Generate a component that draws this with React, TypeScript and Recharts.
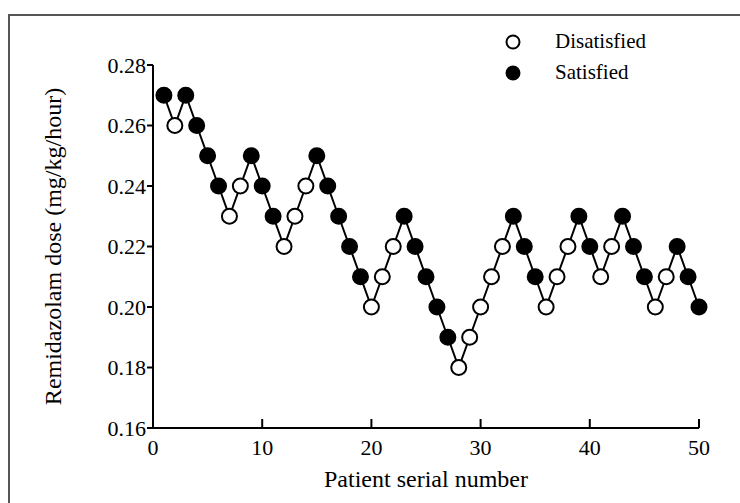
import React from 'react';
import { LineChart, Line, XAxis, YAxis, Legend, Label } from 'recharts';

const patientNo = [
  1, 2, 3, 4, 5, 6, 7, 8, 9, 10,
  11, 12, 13, 14, 15, 16, 17, 18, 19, 20,
  21, 22, 23, 24, 25, 26, 27, 28, 29, 30,
  31, 32, 33, 34, 35, 36, 37, 38, 39, 40,
  41, 42, 43, 44, 45, 46, 47, 48, 49, 50,
];

const dose = [
  0.27, 0.26, 0.27, 0.26, 0.25, 0.24, 0.23, 0.24, 0.25, 0.24,
  0.23, 0.22, 0.23, 0.24, 0.25, 0.24, 0.23, 0.22, 0.21, 0.2,
  0.21, 0.22, 0.23, 0.22, 0.21, 0.2, 0.19, 0.18, 0.19, 0.2,
  0.21, 0.22, 0.23, 0.22, 0.21, 0.2, 0.21, 0.22, 0.23, 0.22,
  0.21, 0.22, 0.23, 0.22, 0.21, 0.2, 0.21, 0.22, 0.21, 0.2,
];

// S = satisfied (filled), D = disatisfied (open)
const outcome = [
  'S', 'D', 'S', 'S', 'S', 'S', 'D', 'D', 'S', 'S',
  'S', 'D', 'D', 'D', 'S', 'S', 'S', 'S', 'S', 'D',
  'D', 'D', 'S', 'S', 'S', 'S', 'S', 'D', 'D', 'D',
  'D', 'D', 'S', 'S', 'S', 'D', 'D', 'D', 'S', 'S',
  'D', 'D', 'S', 'S', 'S', 'D', 'D', 'S', 'S', 'S',
];

const xTicks = [0, 10, 20, 30, 40, 50];
const yTicks = [0.16, 0.18, 0.2, 0.22, 0.24, 0.26, 0.28];

const legendItems = [
  { name: 'Disatisfied', fill: '#fff' },
  { name: 'Satisfied', fill: '#000' },
];

const FONT = "Liberation Serif, Times New Roman, Times, DejaVu Serif, serif";

const chartData = patientNo.map((n, i) => ({
  patient: n,
  dose: dose[i],
  satisfied: outcome[i] === 'S',
}));

const renderDot = (props: any) => {
  const { cx, cy, payload, index } = props;
  return (
    <circle
      key={`dot-${index}`}
      cx={cx}
      cy={cy}
      r={7.5}
      fill={payload.satisfied ? '#000' : '#fff'}
      stroke="#000"
      strokeWidth={2}
    />
  );
};

const renderLegend = () => (
  <div style={{ fontFamily: FONT, fontSize: 21, color: '#000', textAlign: 'left' }}>
    {legendItems.map((item) => (
      <div key={item.name} style={{ display: 'flex', alignItems: 'center', height: 31 }}>
        <svg width={16} height={16} style={{ marginRight: 34 }}>
          <circle cx={8} cy={8} r={6.5} fill={item.fill} stroke="#000" strokeWidth={2} />
        </svg>
        <span>{item.name}</span>
      </div>
    ))}
  </div>
);

const YTitle = (props: any) => {
  const { viewBox } = props;
  const x = viewBox.x + 10;
  const y = viewBox.y + viewBox.height / 2;
  return (
    <text
      x={x}
      y={y}
      transform={`rotate(-90 ${x} ${y})`}
      textAnchor="middle"
      dominantBaseline="central"
      style={{ fontFamily: FONT, fontSize: 24 }}
      fill="#000"
    >
      Remidazolam dose (mg/kg/hour)
    </text>
  );
};

const tickStyle = { fill: '#000', fontSize: 22, style: { fontFamily: FONT } };

export default function App() {
  return (
    <div
      style={{
        position: 'absolute',
        left: 0,
        top: 0,
        width: 740,
        height: 503,
        background: '#fff',
        overflow: 'hidden',
        fontFamily: FONT,
      }}
    >
      {/* figure frame */}
      <div
        style={{
          position: 'absolute',
          left: 8,
          top: 14,
          width: 760,
          height: 520,
          borderLeft: '2px solid #555',
          borderTop: '2px solid #555',
        }}
      />
      <div style={{ position: 'absolute', left: 0, top: 0 }}>
        <LineChart
          width={740}
          height={503}
          data={chartData}
          margin={{ top: 65, right: 41, bottom: 0, left: 43 }}
          style={{ fontFamily: FONT }}
        >
          <XAxis
            dataKey="patient"
            type="number"
            domain={[0, 50]}
            ticks={xTicks}
            height={75}
            axisLine={{ stroke: '#000', strokeWidth: 2 }}
            tickLine={{ stroke: '#000', strokeWidth: 2 }}
            tickSize={-9}
            tickMargin={20}
            tick={tickStyle}
          >
            <Label
              value="Patient serial number"
              position="insideBottom"
              offset={16}
              fill="#000"
              fontSize={24}
              style={{ fontFamily: FONT }}
            />
          </XAxis>
          <YAxis
            type="number"
            domain={[0.16, 0.28]}
            ticks={yTicks}
            width={110}
            axisLine={{ stroke: '#000', strokeWidth: 2 }}
            tickLine={{ stroke: '#000', strokeWidth: 2 }}
            tickSize={6}
            tickMargin={1}
            tickFormatter={(v: number) => v.toFixed(2)}
            tick={tickStyle}
          >
            <Label content={<YTitle />} />
          </YAxis>
          <Legend
            layout="horizontal"
            verticalAlign="middle"
            align="center"
            content={renderLegend}
            wrapperStyle={{ top: 26, left: 505, width: 200 }}
          />
          <Line
            type="linear"
            dataKey="dose"
            stroke="#000"
            strokeWidth={2}
            dot={renderDot}
            activeDot={false}
            isAnimationActive={false}
          />
        </LineChart>
      </div>
    </div>
  );
}
